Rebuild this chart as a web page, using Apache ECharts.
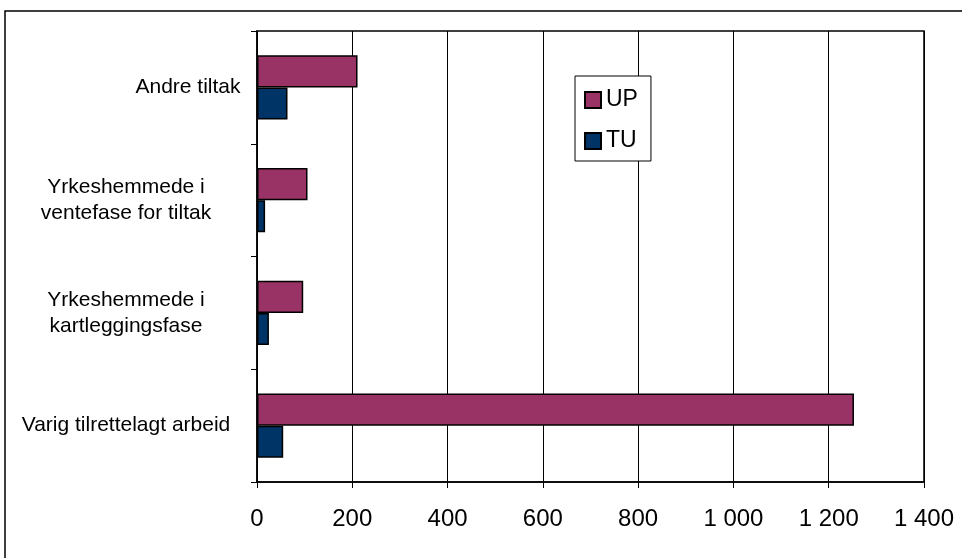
<!DOCTYPE html>
<html><head><meta charset="utf-8">
<script src="https://cdn.jsdelivr.net/npm/echarts@6/dist/echarts.min.js"></script>
<style>html,body{margin:0;padding:0;background:#fff}#c{width:962px;height:558px}</style>
</head><body><div id="c"></div>
<script>
const categories = ['Varig tilrettelagt arbeid', 'Yrkeshemmede i\nkartleggingsfase', 'Yrkeshemmede i\nventefase for tiltak', 'Andre tiltak'];
const upValues = [1253, 97, 106, 211];
const tuValues = [55, 25, 17, 64];
const xTicks = [0, 200, 400, 600, 800, 1000, 1200, 1400];

const FONT = 'Liberation Sans, Arial, sans-serif';
const chart = echarts.init(document.getElementById('c'));
chart.setOption({
  animation: false,
  textStyle: { fontFamily: FONT },
  graphic: [{
    type: 'rect', shape: { x: 5, y: 11, width: 1000, height: 600 },
    style: { fill: 'none', stroke: '#000', lineWidth: 1.5 }, z: -1
  }],
  grid: { left: 257, right: 38, top: 31, bottom: 76, show: true, borderColor: '#000', borderWidth: 1.5 },
  legend: {
    orient: 'vertical', left: 575, top: 76,
    padding: [12, 13, 8, 9], itemGap: 17,
    backgroundColor: '#fff', borderColor: '#000', borderWidth: 1,
    itemWidth: 16, itemHeight: 16, icon: 'rect',
    textStyle: { fontSize: 23, lineHeight: 24, color: '#000', fontFamily: FONT },
    data: ['UP', 'TU']
  },
  xAxis: {
    type: 'value', min: xTicks[0], max: xTicks[xTicks.length - 1], interval: 200,
    axisLine: { show: true, lineStyle: { color: '#000', width: 1.5 } },
    axisTick: { show: true, length: 6, lineStyle: { color: '#000' } },
    splitLine: { show: true, lineStyle: { color: '#000', width: 1 } },
    axisLabel: {
      color: '#000', fontSize: 24, margin: 25,
      formatter: v => String(v).replace(/\B(?=(\d{3})+(?!\d))/g, ' ')
    }
  },
  yAxis: {
    type: 'category', data: categories,
    axisLine: { show: true, lineStyle: { color: '#000', width: 1.5 } },
    axisTick: { show: true, length: 6, lineStyle: { color: '#000' } },
    axisLabel: {
      color: '#000', fontSize: 21, lineHeight: 26, margin: 131, align: 'center',
      formatter: v => v === 'Andre tiltak' ? '{a|' + v + '}' : v,
      rich: { a: { fontSize: 21, padding: [0, 0, 0, 124], color: '#000' } }
    }
  },
  series: [
    { name: 'UP', type: 'bar', data: upValues, barGap: '0%', barCategoryGap: '43%',
      itemStyle: { color: '#993366', borderColor: '#000', borderWidth: 1.5 } },
    { name: 'TU', type: 'bar', data: tuValues, barGap: '0%', barCategoryGap: '43%',
      itemStyle: { color: '#003366', borderColor: '#000', borderWidth: 1.5 } }
  ]
});
</script></body></html>
